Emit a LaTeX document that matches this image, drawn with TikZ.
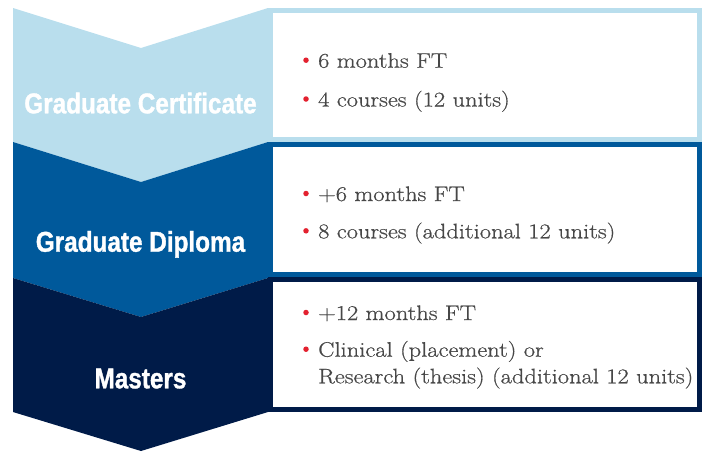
\documentclass[tikz,border=0pt]{standalone}
\usepackage{fontspec}
\newfontfamily\bodyfont{Latin Modern Roman}[FakeStretch=1.165,FakeBold=0.6]
\newfontfamily\labfont{Liberation Sans}[FakeStretch=0.85,FakeBold=1.2]
\definecolor{lightb}{HTML}{B9DEED}
\definecolor{midb}{HTML}{00599B}
\definecolor{navyb}{HTML}{001B48}
\definecolor{txtgray}{HTML}{474747}
\definecolor{bulred}{HTML}{E3212F}
\begin{document}
\begin{tikzpicture}[x=1pt,y=-1pt,
  box/.style={draw=#1, line width=5pt, fill=white, shape=rectangle,
    minimum width=429pt, minimum height=129pt, inner sep=0pt},
  lab/.style={text=white, font={\labfont\bfseries\fontsize{28.6}{30}\selectfont},
    anchor=base, inner sep=0pt},
  item/.style={text=txtgray, font={\bodyfont\fontsize{21}{26}\selectfont},
    anchor=base west, inner sep=0pt},
  dot/.style={circle, fill=bulred, inner sep=0pt, minimum size=5.5pt}]
\useasboundingbox (0,0) rectangle (706,451);
% chevrons
\fill[lightb] (13,8) -- (141,48) -- (268,8) -- (268,142) -- (141,182) -- (13,142) -- cycle;
\fill[midb] (13,142) -- (141,182) -- (268,142) -- (268,278) -- (141,317) -- (13,278) -- cycle;
\fill[navyb] (13,278) -- (141,317) -- (268,278) -- (268,412) -- (141,451) -- (13,412) -- cycle;
% boxes
\node[box=lightb, minimum height=129pt] (b1) at (485,75) {};
\node[box=midb, minimum height=130pt] (b2) at (485,209.5) {};
\node[box=navyb, minimum height=130pt] (b3) at (485,344.5) {};
% labels
\node[lab] (l1) at (140.5,113.3) {Graduate Certificate};
\node[lab] (l2) at (140.5,251.7) {Graduate Diploma};
\node[lab] (l3) at (140.5,388.3) {Masters};
% items
\node[dot] (d1) at (306,60.2) {};
\node[item] (t1) at (318,67.7) {6 months FT};
\node[dot] (d2) at (306,99) {};
\node[item] (t2) at (318,106.5) {4 courses (12 units)};
\node[dot] (d3) at (306,193.5) {};
\node[item] (t3) at (318,201) {+6 months FT};
\node[dot] (d4) at (306,230.8) {};
\node[item] (t4) at (318,238.3) {8 courses (additional 12 units)};
\node[dot] (d5) at (306,312.5) {};
\node[item] (t5) at (318,320) {+12 months FT};
\node[dot] (d6) at (306,349.2) {};
\node[item] (t6) at (318,356.7) {Clinical (placement) or};
\node[item] (t7) at (318,383.3) {Research (thesis) (additional 12 units)};
\end{tikzpicture}
\end{document}
